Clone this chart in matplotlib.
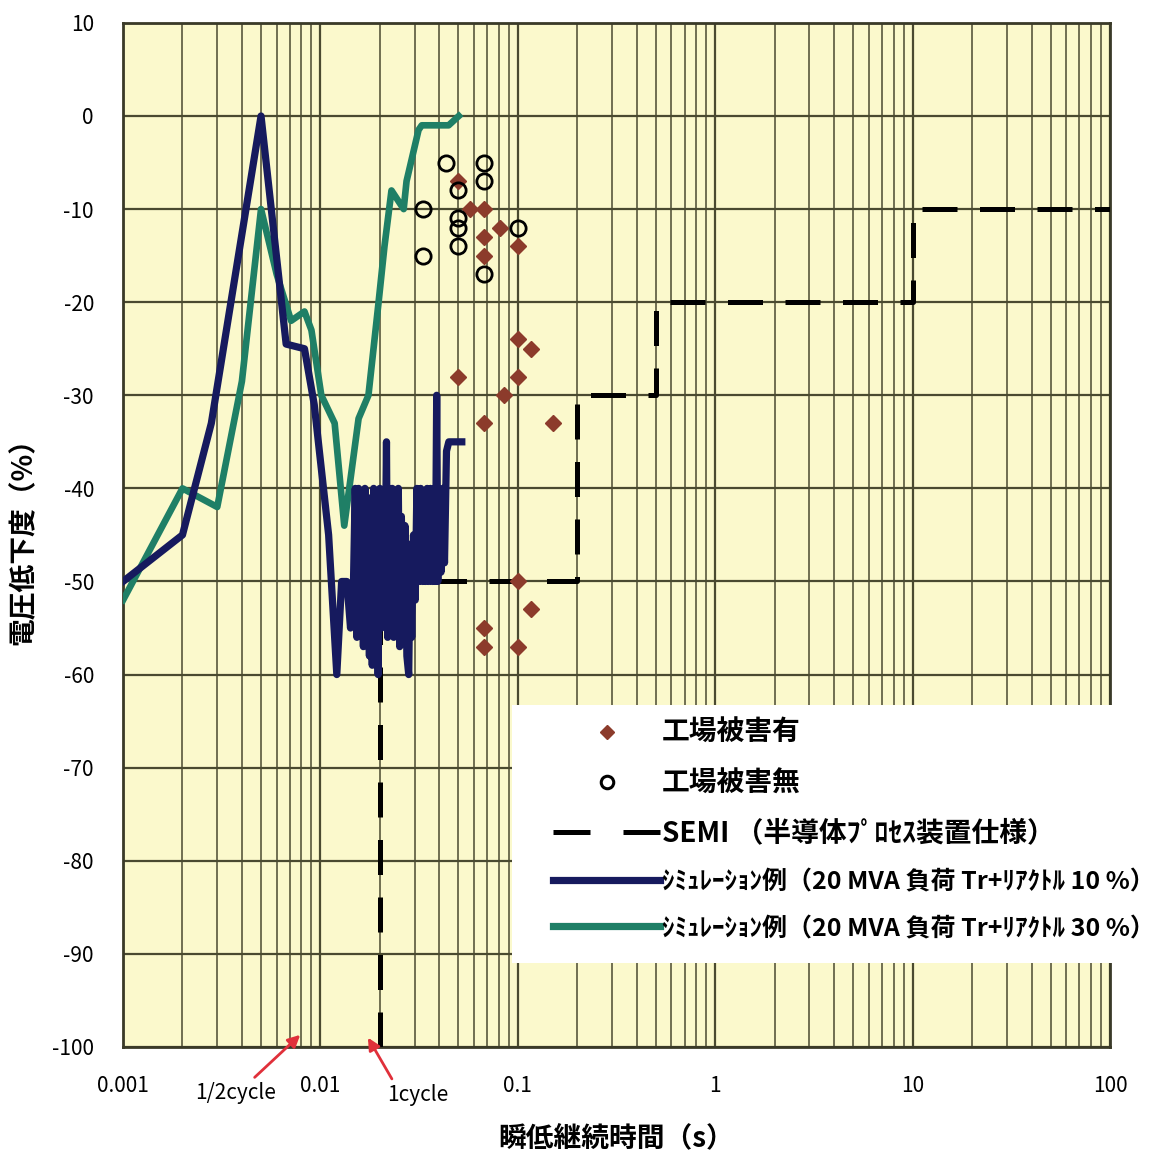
import matplotlib
matplotlib.use("Agg")
import matplotlib.pyplot as plt
from matplotlib.lines import Line2D
from matplotlib.patches import Rectangle
from matplotlib.ticker import FixedLocator, FixedFormatter, LogLocator, NullFormatter

plt.rcParams['font.family'] = ['Noto Sans CJK JP', 'DejaVu Sans']

# シミュレーション (リアクトル 10 %)
sim10_t = [0.001, 0.002, 0.0028, 0.005, 0.0067, 0.0083, 0.0093, 0.0110, 0.0121,
           0.0128, 0.0136, 0.0142, 0.0147, 0.0150, 0.0153, 0.0156, 0.0159, 0.0162,
           0.0165, 0.0168, 0.0171, 0.0174, 0.0177, 0.0180, 0.0183, 0.0186, 0.0190,
           0.0193, 0.0196, 0.0200, 0.0204, 0.0208, 0.0212, 0.0216, 0.0219, 0.0223,
           0.0227, 0.0231, 0.0235, 0.0240, 0.0244, 0.0248, 0.0252, 0.0257, 0.0262,
           0.0268, 0.0274, 0.0280, 0.0285, 0.0290, 0.0296, 0.0302, 0.0308, 0.0315,
           0.0322, 0.0328, 0.0334, 0.0340, 0.0347, 0.0354, 0.0361, 0.0368, 0.0375,
           0.0382, 0.0388, 0.0393, 0.0400, 0.0408, 0.0416, 0.0425, 0.0435, 0.0447,
           0.0520]
sim10_v = [-50, -45, -33, 0, -24.5, -25, -31, -45, -60,
           -50, -50, -55, -50, -40, -56, -40, -55, -41,
           -57, -40, -56, -42, -58, -41, -59, -40, -57,
           -44, -60, -40, -55, -42, -52, -35, -56, -40,
           -55, -40, -56, -41, -54, -40, -57, -43, -52,
           -44, -58, -60, -46, -56, -45, -52, -40, -50,
           -40, -50, -41, -50, -40, -50, -40, -50, -42,
           -50, -30, -50, -41, -49, -40, -48, -36, -35,
           -35]

# シミュレーション (リアクトル 30 %)
sim30_t = [0.001, 0.002, 0.003, 0.004, 0.005, 0.0060, 0.0071, 0.0083, 0.0090,
           0.0101, 0.0118, 0.0132, 0.0156, 0.0175, 0.0197, 0.0211, 0.0229, 0.0264,
           0.0273, 0.0314, 0.0326, 0.0446, 0.0502]
sim30_v = [-52, -40, -42, -28.5, -10, -17, -22, -21, -23,
           -30, -33, -44, -32.5, -30, -20, -14, -8, -10,
           -7, -1.5, -1, -1, 0]

# SEMI 規格
semi_t = [0.02, 0.02, 0.2, 0.2, 0.5, 0.5, 10, 10, 100]
semi_v = [-100, -50, -50, -30, -30, -20, -20, -10, -10]

# 工場被害有
dmg_t = [0.05, 0.057, 0.067, 0.067, 0.067, 0.081, 0.10, 0.10, 0.117, 0.05,
         0.10, 0.085, 0.067, 0.15, 0.10, 0.117, 0.067, 0.067, 0.10]
dmg_v = [-7, -10, -10, -13, -15, -12, -14, -24, -25, -28,
         -28, -30, -33, -33, -50, -53, -55, -57, -57]

# 工場被害無
ok_t = [0.033, 0.033, 0.043, 0.05, 0.05, 0.05, 0.05, 0.067, 0.067, 0.067, 0.10]
ok_v = [-10, -15, -5, -8, -11, -12, -14, -5, -7, -17, -12]

xticks = [0.001, 0.01, 0.1, 1, 10, 100]
xtick_labels = ['0.001', '0.01', '0.1', '1', '10', '100']
yticks = list(range(10, -101, -10))
ytick_labels = [str(v) for v in yticks]

navy = '#161a5e'
teal = '#1f7f66'
brown = '#8c3b2b'
grid_c = '#4a4a30'

fig = plt.figure(figsize=(11.62, 11.51), dpi=100)
ax = fig.add_axes([0.1059, 0.0904, 0.8494, 0.8897])
ax.set_facecolor('#fbf9cc')
ax.set_xscale('log')
ax.set_xlim(0.001, 100)
ax.set_ylim(-100, 10)

ax.xaxis.set_major_locator(FixedLocator(xticks))
ax.xaxis.set_major_formatter(FixedFormatter(xtick_labels))
ax.xaxis.set_minor_locator(LogLocator(base=10, subs=range(2, 10)))
ax.xaxis.set_minor_formatter(NullFormatter())
ax.yaxis.set_major_locator(FixedLocator(yticks))
ax.yaxis.set_major_formatter(FixedFormatter(ytick_labels))
ax.tick_params(which='both', length=0)
ax.tick_params(axis='x', pad=20, labelsize=15)
ax.tick_params(axis='y', pad=21, labelsize=15)

ax.grid(which='major', axis='both', color=grid_c, lw=1.6)
ax.grid(which='minor', axis='x', color=grid_c, lw=1.1)
ax.set_axisbelow(True)
for s in ax.spines.values():
    s.set_color('#3a3a28')
    s.set_linewidth(2)

ax.plot(semi_t, semi_v, color='black', lw=3.6, dashes=(7, 4.5), zorder=3)
ax.plot(sim30_t, sim30_v, color=teal, lw=4.8, solid_joinstyle='round', zorder=4)
ax.plot(sim10_t, sim10_v, color=navy, lw=5.2, solid_joinstyle='round', zorder=5)
ax.plot(dmg_t, dmg_v, ls='none', marker='D', ms=8.5, color=brown, zorder=6)
ax.plot(ok_t, ok_v, ls='none', marker='o', ms=11, mfc='none', mec='black',
        mew=2, zorder=7)

ax.set_xlabel('瞬低継続時間（s）', fontsize=20, fontweight='bold', labelpad=20)
ax.set_ylabel('電圧低下度（%）', fontsize=20, fontweight='bold', labelpad=10)

red = '#e0303a'
ax.annotate('1/2cycle', xy=(0.0079, -98.7), xytext=(0.1135, -0.045),
            textcoords='axes fraction', ha='center', va='center', fontsize=15,
            arrowprops=dict(arrowstyle='-|>', color=red, lw=2, mutation_scale=18,
                            shrinkA=2, shrinkB=0, relpos=(0.68, 1.0)))
ax.annotate('1cycle', xy=(0.0174, -99), xytext=(0.299, -0.047),
            textcoords='axes fraction', ha='center', va='center', fontsize=15,
            arrowprops=dict(arrowstyle='-|>', color=red, lw=2, mutation_scale=18,
                            shrinkA=2, shrinkB=0, relpos=(0.12, 1.0)))

# 凡例の白い下地
ax.add_patch(Rectangle((0.394, 0.082), 0.632, 0.252, transform=ax.transAxes,
                       facecolor='white', edgecolor='none', clip_on=False, zorder=9))

handles = [
    Line2D([], [], ls='none', marker='D', ms=7, color=brown),
    Line2D([], [], ls='none', marker='o', ms=9, mfc='none', mec='black', mew=2.2),
    Line2D([], [], color='black', lw=3.6, dashes=(7.4, 6.6)),
    Line2D([], [], color=navy, lw=5.2),
    Line2D([], [], color=teal, lw=5.2),
]
labels = ['工場被害有', '工場被害無', 'SEMI （半導体ﾌﾟﾛｾｽ装置仕様）',
          'ｼﾐｭﾚｰｼｮﾝ例（20 MVA 負荷 Tr+ﾘｱｸﾄﾙ 10 %）',
          'ｼﾐｭﾚｰｼｮﾝ例（20 MVA 負荷 Tr+ﾘｱｸﾄﾙ 30 %）']
leg = ax.legend(handles, labels, loc='upper left', bbox_to_anchor=(0.4357, 0.320),
                frameon=False, prop={'weight': 'bold', 'size': 20},
                handlelength=3.85, handletextpad=0.07, labelspacing=0.8,
                borderpad=0, borderaxespad=0)
for t in leg.get_texts()[3:]:
    t.set_fontsize(18)
leg.set_zorder(10)

fig.savefig('out.png', dpi=100, facecolor='white')
